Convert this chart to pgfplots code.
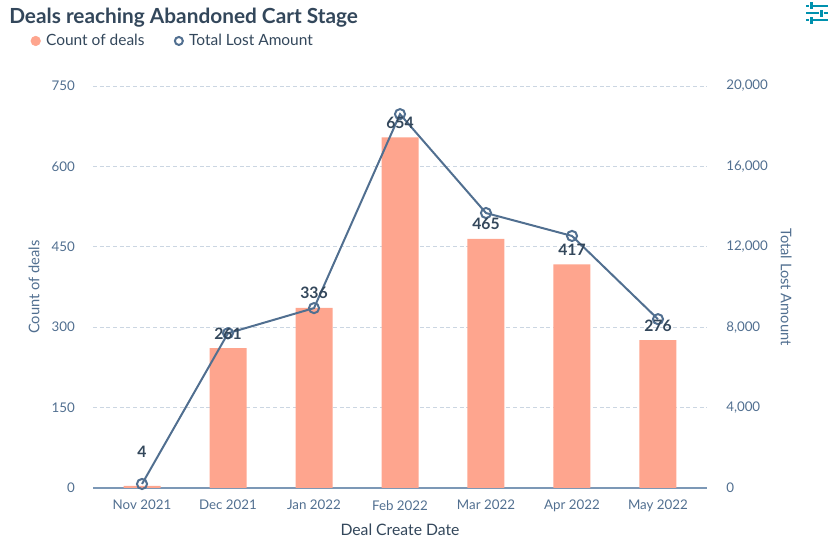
\documentclass[border=0pt]{standalone}
\usepackage{pgfplots}
\pgfplotsset{compat=1.18}
\usepackage{fontspec}
\setmainfont{Lato}
\definecolor{bar}{HTML}{FEA58E}
\definecolor{ln}{HTML}{516F90}
\definecolor{txt}{HTML}{33475B}
\definecolor{tick}{HTML}{516F90}
\definecolor{grd}{HTML}{CBD6E2}
\definecolor{ax}{HTML}{7C98B6}
\definecolor{icon}{HTML}{0091AE}
\pgfplotsset{/pgf/number format/assume math mode=true}
\begin{document}
\begin{tikzpicture}[x=0.75pt,y=0.75pt]
\useasboundingbox (0,0) rectangle (833,541);
% title
\node[anchor=west,inner sep=0pt,text=txt,font=\fontsize{15.6}{18}\selectfont\bfseries] at (9,523.5) {Deals reaching Abandoned Cart Stage};
% filter icon
\begin{scope}[icon,line width=1.5pt]
\draw (806,535) -- (809,535); \draw (813,535) -- (828,535);
\draw (806,527.5) -- (819,527.5); \draw (823.5,527.5) -- (828,527.5);
\draw (806,520.5) -- (809,520.5); \draw (813,520.5) -- (828,520.5);
\fill (809.5,531.5) rectangle (812.5,538.5);
\fill (819.5,524) rectangle (822.5,531);
\fill (809.5,517) rectangle (812.5,524);
\end{scope}
\begin{axis}[
  at={(69.75pt,39.75pt)}, anchor=south west,
  scale only axis, width=460.5pt, height=301.5pt,
  xmin=-0.57, xmax=6.57, ymin=0, ymax=750,
  ytick={0,150,...,750},
  xtick={0,...,6},
  xticklabels={Nov 2021,Dec 2021,Jan 2022,Feb 2022,Mar 2022,Apr 2022,May 2022},
  axis y line*=left, axis x line*=bottom,
  y axis line style={draw=none},
  x axis line style={draw=ax, line width=0.8pt, -},
  major tick length=0pt,
  ymajorgrids, grid style={grd, dash pattern=on 3pt off 2pt, line width=0.6pt},
  tick label style={font=\fontsize{10}{12}\selectfont, text=tick},
  yticklabel style={inner sep=0pt, xshift=-13.5pt},
  xticklabel style={inner sep=0pt, yshift=-9pt},
  ylabel={Count of deals},
  ylabel style={at={(axis description cs:-0.096,0.5)}, anchor=center, font=\fontsize{11}{13}\selectfont, text=tick},
  xlabel={Deal Create Date},
  xlabel style={at={(axis description cs:0.5,-0.105)}, anchor=center, font=\fontsize{11.8}{13}\selectfont, text=txt},
  legend columns=2,
  legend style={at={(axis description cs:-0.102,1.136)}, anchor=north west, draw=none, fill=none,
    font=\fontsize{11.6}{13}\selectfont, text=txt, column sep=2pt, inner sep=0pt,
    /tikz/every even column/.append style={column sep=20pt}},
  legend cell align=left,
]
\addlegendimage{legend image code/.code={\fill[bar] (0pt,0pt) circle (3.6pt);}}
\addlegendentry{Count of deals}
\addlegendimage{legend image code/.code={\draw[ln, line width=1.5pt, fill=white] (0pt,0pt) circle (3pt);}}
\addlegendentry{Total Lost Amount}
\addplot[ybar, bar width=27.75pt, bar shift=0pt, fill=bar, draw=none, forget plot]
  coordinates {(0,4) (1,261) (2,336) (3,654) (4,465) (5,417) (6,276)};
\end{axis}
\begin{axis}[
  at={(69.75pt,39.75pt)}, anchor=south west,
  scale only axis, width=460.5pt, height=301.5pt,
  xmin=-0.57, xmax=6.57, ymin=0, ymax=20000,
  ytick={0,4000,...,20000},
  scaled y ticks=false,
  xtick=\empty,
  axis y line*=right, axis x line=none,
  y axis line style={draw=none},
  major tick length=0pt,
  tick label style={font=\fontsize{10}{12}\selectfont, text=tick},
  yticklabel style={inner sep=0pt, xshift=14.25pt, /pgf/number format/1000 sep={,}},
  ylabel={Total Lost Amount},
  ylabel style={at={(axis description cs:1.129,0.5)}, anchor=center, rotate=180, font=\fontsize{11}{13}\selectfont, text=tick},
  clip=false,
]
\addplot[ln, line width=1.5pt, mark=o, mark size=3.8pt, mark options={fill=white, line width=1.5pt}]
  coordinates {(0,200) (1,7700) (2,8950) (3,18600) (4,13680) (5,12540) (6,8400)};
\addplot[draw=none, mark=none, nodes near coords, point meta=explicit,
  nodes near coords style={anchor=center, font=\fontsize{11.8}{13}\selectfont\bfseries, text=txt, inner sep=0.5pt}]
  coordinates {(0,1790)[4] (1,7660)[261] (2,9700)[336] (3,18160)[654] (4,13130)[465] (5,11840)[417] (6,8050)[276]};
\end{axis}
\end{tikzpicture}
\end{document}
